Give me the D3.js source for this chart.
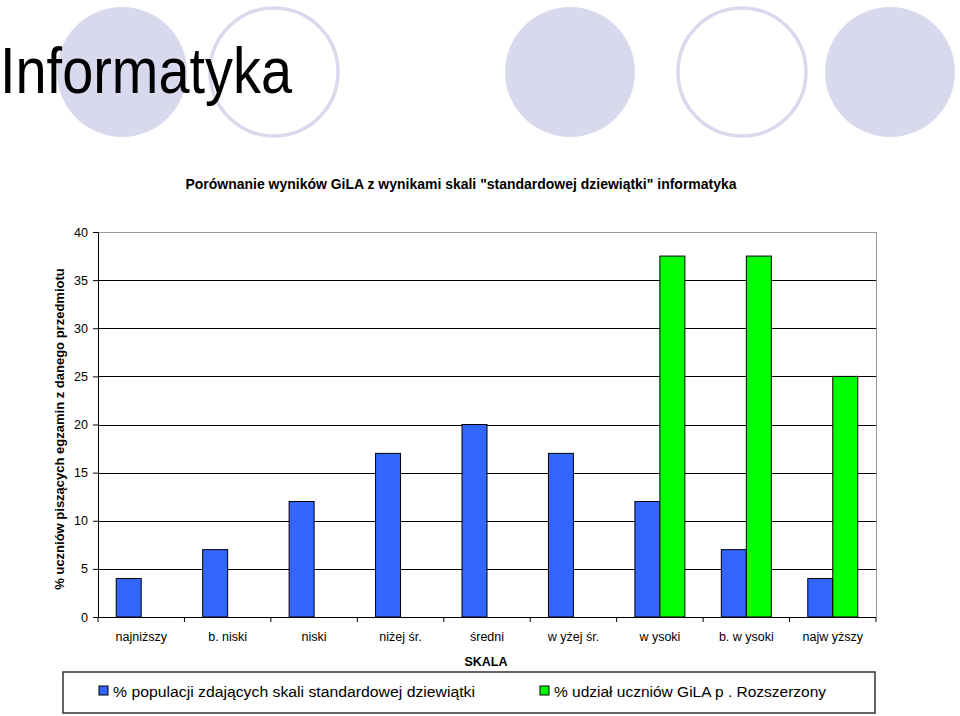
<!DOCTYPE html>
<html>
<head>
<meta charset="utf-8">
<script src="https://cdn.jsdelivr.net/npm/d3@7"></script>
<style>
  body { margin: 0; background: #fff; }
  text { font-family: Arial, "Liberation Sans", sans-serif; }
</style>
</head>
<body>
<script>
var categories = ["najniższy", "b. niski", "niski", "niżej śr.", "średni", "w yżej śr.", "w ysoki", "b. w ysoki", "najw yższy"];
var populacja = [4, 7, 12, 17, 20, 17, 12, 7, 4];
var gila = [0, 0, 0, 0, 0, 0, 37.5, 37.5, 25];
var seriesNames = ["% populacji zdających skali standardowej dziewiątki", "% udział uczniów GiLA p . Rozszerzony"];
var seriesColors = ["#3366ff", "#00ff00"];
var yTicks = [0, 5, 10, 15, 20, 25, 30, 35, 40];

var svg = d3.select("body").append("svg")
    .attr("width", 960)
    .attr("height", 716);

// background decoration circles
var deco = [
  {cx: 122, filled: true}, {cx: 274, filled: false}, {cx: 570, filled: true},
  {cx: 742, filled: false}, {cx: 890, filled: true}
];
svg.selectAll("circle.deco")
    .data(deco)
    .enter().append("circle")
    .attr("class", "deco")
    .attr("cx", function (d) { return d.cx; })
    .attr("cy", 72)
    .attr("r", function (d) { return d.filled ? 65 : 64; })
    .attr("fill", function (d) { return d.filled ? "#d9d9ee" : "none"; })
    .attr("stroke", function (d) { return d.filled ? "none" : "#d9d9ee"; })
    .attr("stroke-width", 3.5);

svg.append("text")
    .attr("x", 0)
    .attr("y", 93)
    .attr("font-size", 64)
    .attr("textLength", 292)
    .attr("lengthAdjust", "spacingAndGlyphs")
    .text("Informatyka");

// chart
var plotL = 98, plotR = 876, plotT = 232, plotB = 617;

var x = d3.scaleBand().domain(categories).range([plotL, plotR]);
var y = d3.scaleLinear().domain([0, 40]).range([plotB, plotT]);
var barW = 25;

svg.append("text")
    .attr("x", 461)
    .attr("y", 189)
    .attr("text-anchor", "middle")
    .attr("font-size", 14)
    .attr("font-weight", "bold")
    .attr("textLength", 551)
    .attr("lengthAdjust", "spacingAndGlyphs")
    .text('Porównanie wyników GiLA z wynikami skali "standardowej dziewiątki" informatyka');

// gridlines
svg.selectAll("line.grid")
    .data(yTicks.filter(function (d) { return d > 0; }))
    .enter().append("line")
    .attr("class", "grid")
    .attr("x1", plotL).attr("x2", plotR)
    .attr("y1", function (d) { return Math.round(y(d)) + 0.5; })
    .attr("y2", function (d) { return Math.round(y(d)) + 0.5; })
    .attr("stroke", function (d) { return d == 40 ? "#999" : "#000"; })
    .attr("stroke-width", 1);

// right border
svg.append("line")
    .attr("x1", plotR + 0.5).attr("x2", plotR + 0.5)
    .attr("y1", plotT).attr("y2", plotB)
    .attr("stroke", "#999");

// y axis
var yAxis = svg.append("g")
    .attr("transform", "translate(" + plotL + ",0)")
    .call(d3.axisLeft(y).tickValues(yTicks).tickSize(5).tickPadding(5));
yAxis.select(".domain").attr("stroke", "#000");
yAxis.selectAll("line").attr("stroke", "#000");
yAxis.selectAll("text").attr("font-size", 12.5).attr("fill", "#000").attr("font-family", "Arial, sans-serif");

// x axis with ticks at category boundaries
svg.append("line")
    .attr("x1", plotL).attr("x2", plotR)
    .attr("y1", plotB + 0.5).attr("y2", plotB + 0.5)
    .attr("stroke", "#000");
var bounds = categories.map(function (c) { return x(c); }).concat([plotR]);
svg.selectAll("line.xtick")
    .data(bounds)
    .enter().append("line")
    .attr("class", "xtick")
    .attr("x1", function (d) { return d; })
    .attr("x2", function (d) { return d; })
    .attr("y1", plotB).attr("y2", plotB + 5)
    .attr("stroke", "#000");
svg.selectAll("text.xlab")
    .data(categories)
    .enter().append("text")
    .attr("class", "xlab")
    .attr("x", function (d) { return x(d) + x.bandwidth() / 2; })
    .attr("y", 641)
    .attr("text-anchor", "middle")
    .attr("font-size", 12.5)
    .text(function (d) { return d; });

// bars
svg.selectAll("rect.pop")
    .data(populacja)
    .enter().append("rect")
    .attr("class", "pop")
    .attr("fill", seriesColors[0])
    .attr("stroke", "#000")
    .attr("x", function (d, i) { return x(categories[i]) + x.bandwidth() / 2 - barW; })
    .attr("width", barW)
    .attr("y", function (d) { return y(d); })
    .attr("height", function (d) { return plotB - y(d); });

svg.selectAll("rect.gila")
    .data(gila)
    .enter().append("rect")
    .attr("class", "gila")
    .attr("fill", seriesColors[1])
    .attr("stroke", "#000")
    .attr("x", function (d, i) { return x(categories[i]) + x.bandwidth() / 2; })
    .attr("width", barW)
    .attr("y", function (d) { return y(d); })
    .attr("height", function (d) { return plotB - y(d); })
    .attr("display", function (d) { return d > 0 ? null : "none"; });

// axis titles
svg.append("text")
    .attr("transform", "translate(64,429) rotate(-90)")
    .attr("text-anchor", "middle")
    .attr("font-size", 13)
    .attr("font-weight", "bold")
    .text("% uczniów piszących egzamin z danego przedmiotu");

svg.append("text")
    .attr("x", 486)
    .attr("y", 666)
    .attr("text-anchor", "middle")
    .attr("font-size", 12.5)
    .attr("font-weight", "bold")
    .text("SKALA");

// legend
svg.append("rect")
    .attr("x", 63).attr("y", 672)
    .attr("width", 812).attr("height", 41)
    .attr("fill", "#fff")
    .attr("stroke", "#333")
    .attr("stroke-width", 1.5);

var legX = [99, 540];
var legLen = [362, 272];
var leg = svg.selectAll("g.leg")
    .data(seriesNames)
    .enter().append("g")
    .attr("class", "leg")
    .attr("transform", function (d, i) { return "translate(" + legX[i] + ",686)"; });
leg.append("rect")
    .attr("width", 9).attr("height", 9)
    .attr("fill", function (d, i) { return seriesColors[i]; })
    .attr("stroke", "#000");
leg.append("text")
    .attr("x", 14)
    .attr("y", 11)
    .attr("font-size", 15.5)
    .attr("textLength", function (d, i) { return legLen[i]; })
    .attr("lengthAdjust", "spacingAndGlyphs")
    .text(function (d) { return d; });
</script>
</body>
</html>
